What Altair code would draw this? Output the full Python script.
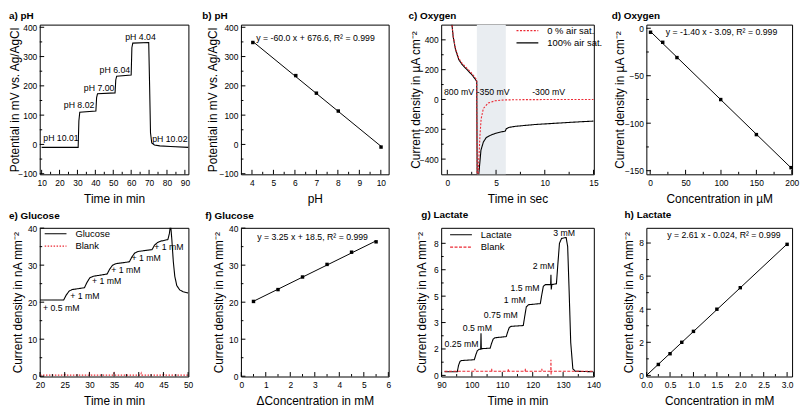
import altair as alt
import pandas as pd

FONT = "Liberation Sans, Arial, Helvetica, sans-serif"
RED = "#ec2a35"

# ---------------- a) pH time trace ----------------
a_time = [10, 30.4, 30.8, 31.3, 40.3, 40.7, 41.2, 51.0, 51.4, 51.9, 60.0, 60.4, 60.9,
          69.8, 70.3, 70.8, 71.5, 73, 76, 82, 92]
a_pot = [-10, -10, 80, 110, 114, 160, 173, 176, 220, 233, 237, 330, 346,
         348, 200, 40, 5, -2, -5, -7, -10]
a_lab_text = ["pH 10.01", "pH 8.02", "pH 7.00", "pH 6.04", "pH 4.04", "pH 10.02"]
a_lab_x = [20.8, 30.9, 42.1, 50.9, 65.2, 81.6]
a_lab_y = [21, 136, 191, 254, 367, 19]

# ---------------- b) pH calibration ----------------
b_ph = [4.04, 6.04, 7.00, 8.02, 10.01]
b_pot = [348, 235, 175, 114, -9]
b_eq = ["y = -60.0 x + 676.6, R² = 0.999"]
b_eq_x = [4.2]
b_eq_y = [364]

# ---------------- c) Oxygen transient ----------------
c_t_full = [0.45, 0.6, 0.84, 1.18, 1.52, 2.02, 2.53, 2.86, 3.02, 3.06, 3.2, 3.3, 3.45, 3.7,
            4.0, 4.5, 5.0, 5.5, 5.95, 6.05, 6.3, 7.0, 9.0, 11.0, 13.0, 15.0]
c_j_full = [520, 420, 334, 267, 234, 200, 165, 137, 120, -520, -520, -450, -340, -285,
            -255, -238, -226, -218, -212, -196, -188, -180, -168, -160, -152, -145]
c_t_zero = [0.45, 0.6, 0.84, 1.18, 1.52, 2.02, 2.53, 2.86, 3.02, 3.06, 3.15, 3.25, 3.35,
            3.47, 3.7, 4.2, 4.9, 5.5, 6.0, 8.0, 15.0]
c_j_zero = [520, 425, 340, 275, 242, 209, 174, 146, 130, -520, -520, -380, -240,
            -130, -60, -24, -9, -5, -3, -1, 0]
c_series = ["0 % air sat.", "100% air sat."]
c_band = [3.03, 6.0]
c_lab_text = ["800 mV", "-350 mV", "-300 mV"]
c_lab_x = [1.2, 4.7, 10.4]
c_lab_y = [51, 51, 51]

# ---------------- d) Oxygen calibration ----------------
d_conc = [0.5, 17.7, 37.8, 99.6, 150, 199]
d_j = [-4.2, -14.8, -30.9, -75.1, -112, -146.8]
d_eq = ["y = -1.40 x - 3.09, R² = 0.999"]
d_eq_x = [22]
d_eq_y = [-4.5]

# ---------------- e) Glucose trace ----------------
e_time = [20.0, 24.8, 25.3, 25.9, 26.5, 29.0, 29.5, 30.1, 30.8, 33.6, 34.1, 34.7, 35.4,
          38.1, 38.6, 39.2, 39.9, 42.7, 43.2, 43.8, 44.5, 45.9, 46.2, 46.45, 46.7, 47.0,
          47.3, 47.7, 48.3, 49.0, 50.0]
e_j = [20.6, 20.6, 21.9, 23.0, 23.4, 23.9, 25.3, 26.6, 27.0, 27.6, 28.9, 30.0, 30.4,
       30.9, 32.2, 33.3, 33.7, 34.2, 35.4, 36.1, 36.5, 36.9, 38.5, 41, 37, 31,
       27, 24.5, 23.3, 22.8, 22.5]
e_blank_t = [20.0, 24.9, 25.0, 25.1, 29.9, 30.0, 30.1, 34.9, 35.0, 35.1, 40.4, 40.5, 40.6,
             44.9, 45.0, 45.1, 50.0]
e_blank_j = [0.3, 0.3, 0.8, 0.3, 0.3, 0.8, 0.3, 0.3, 0.8, 0.3, 0.3, 0.8, 0.3,
             0.3, 0.8, 0.3, 0.3]
e_series = ["Glucose", "Blank"]
e_lab_text = ["+ 0.5 mM", "+ 1 mM", "+ 1 mM", "+ 1 mM", "+ 1 mM", "+ 1 mM"]
e_lab_x = [24.3, 29.1, 33.5, 37.4, 41.5, 46.1]
e_lab_y = [18.4, 21.6, 25.6, 28.7, 31.8, 34.8]

# ---------------- f) Glucose calibration ----------------
f_conc = [0.5, 1.5, 2.5, 3.5, 4.5, 5.5]
f_j = [20.2, 23.4, 26.8, 30.2, 33.5, 36.3]
f_eq = ["y = 3.25 x + 18.5, R² = 0.999"]
f_eq_x = [2.91]
f_eq_y = [37.6]

# ---------------- g) Lactate trace ----------------
g_time = [91, 95.2, 95.6, 96.1, 96.6, 100.8, 101.3, 101.8, 102.4, 102.9, 103.0, 103.1,
          103.3, 106.0, 106.5, 107.0, 107.6, 111.3, 111.8, 112.3, 112.9, 116.9, 117.4,
          117.9, 118.6, 122.5, 123.0, 123.5, 124.2, 125.9, 126.0, 126.1, 126.3, 127.8,
          128.3, 128.8, 129.5, 131.0, 131.5, 132.0, 132.5, 133.2, 134, 140]
g_j = [0.22, 0.22, 0.6, 0.85, 0.9, 0.95, 1.25, 1.5, 1.58, 1.6, 2.55, 1.6,
       1.62, 1.65, 1.95, 2.2, 2.28, 2.35, 2.65, 2.9, 2.97, 3.02, 3.6,
       4.15, 4.28, 4.35, 4.9, 5.4, 5.5, 5.5, 6.1, 5.2, 5.5, 5.55,
       6.8, 8.0, 8.3, 8.35, 7.8, 5.0, 2.0, 0.4, 0.25, 0.22]
g_blank_t = [91, 100.9, 101.0, 101.1, 106.4, 106.5, 106.6, 111.9, 112.0, 112.1, 117.5,
             117.6, 117.7, 122.9, 123.0, 123.1, 125.95, 126.0, 126.05, 126.1, 140]
g_blank_j = [0.25, 0.25, 0.4, 0.25, 0.25, 0.4, 0.25, 0.25, 0.4, 0.25, 0.25,
             0.4, 0.25, 0.25, 0.4, 0.25, 0.25, 0.95, 0.05, 0.25, 0.25]
g_series = ["Lactate", "Blank"]
g_lab_text = ["0.25 mM", "0.5 mM", "0.75 mM", "1 mM", "1.5 mM", "2 mM", "3 mM"]
g_lab_x = [96.6, 101.8, 109.5, 114.1, 117.5, 123.6, 130.3]
g_lab_y = [1.93, 2.87, 3.64, 4.58, 5.29, 6.6, 8.6]

# ---------------- h) Lactate calibration ----------------
h_conc = [0.25, 0.5, 0.75, 1.0, 1.5, 2.0, 3.0]
h_j = [0.66, 1.31, 2.0, 2.66, 4.0, 5.3, 7.92]
h_eq = ["y = 2.61 x - 0.024, R² = 0.999"]
h_eq_x = [1.65]
h_eq_y = [8.5]

# ---------------- layout ----------------
W = [150, 149, 154, 147]
H1, H2 = 151, 150
EPS = 2e-3
LEG_PATH = "M-2.2,0H2.2"   # long horizontal stroke as legend symbol


def sc(dom):
    span = dom[1] - dom[0]
    return alt.Scale(domain=[dom[0] - span * EPS, dom[1] + span * EPS], nice=False, zero=False)


AX_COMMON = dict(labelOverlap=False, labelBound=False, labelFlush=False)


def xax(title, vals, fmt=None):
    d = dict(title=title, values=vals, titleY=24, labelPadding=4, tickCount=len(vals), **AX_COMMON)
    if fmt:
        d["format"] = fmt
    return alt.Axis(**d)


def yax(title, vals, tx, fmt=None):
    d = dict(title=title, values=vals, titleX=tx, tickCount=len(vals), **AX_COMMON)
    if fmt:
        d["format"] = fmt
    return alt.Axis(**d)


def leg(x, y):
    return alt.Legend(title=None, orient="none", legendX=x, legendY=y, symbolType=LEG_PATH,
                      symbolSize=100, symbolOffset=6, labelOffset=14)


class P:
    """Panel helper: shared scales and axes for every layer of one panel."""

    def __init__(self, xdom, ydom, xa, ya, H):
        self.xs, self.ys, self.xa, self.ya, self.H = sc(xdom), sc(ydom), xa, ya, H

    def X(self, f):
        return alt.X(f, scale=self.xs, axis=self.xa)

    def Y(self, f):
        return alt.Y(f, scale=self.ys, axis=self.ya)

    def ticks(self, xmaj, xmin, ymaj, ymin):
        out = []
        for vals, L in ((xmaj, 4.5), (xmin, 2.5)):
            out.append(alt.Chart(pd.DataFrame({"x": vals})).mark_rule(color="black", strokeWidth=1).encode(
                x=self.X("x:Q"), y=alt.value(self.H), y2=alt.value(self.H - L)))
        for vals, L in ((ymaj, 4.5), (ymin, 2.5)):
            out.append(alt.Chart(pd.DataFrame({"y": vals})).mark_rule(color="black", strokeWidth=1).encode(
                y=self.Y("y:Q"), x=alt.value(0), x2=alt.value(L)))
        return out

    def text(self, xv, yv, tv, align="center"):
        df = pd.DataFrame({"x": xv, "y": yv, "t": tv})
        return alt.Chart(df).mark_text(font=FONT, fontSize=8.8, color="black", align=align,
                                       baseline="middle").encode(
            x=self.X("x:Q"), y=self.Y("y:Q"), text="t:N")

    def fit(self, xv, yv, extent=None):
        df = pd.DataFrame({"x": xv, "y": yv})
        base = alt.Chart(df)
        f = base.transform_regression("x", "y", extent=extent) if extent else base.transform_regression("x", "y")
        line = f.mark_line(color="black", strokeWidth=1).encode(x=self.X("x:Q"), y=self.Y("y:Q"))
        pts = base.mark_point(shape="square", filled=True, size=12, color="black", opacity=1).encode(
            x=self.X("x:Q"), y=self.Y("y:Q"))
        return [line, pts]

    def line(self, xv, yv, color="black"):
        df = pd.DataFrame({"x": xv, "y": yv})
        return alt.Chart(df).mark_line(color=color, strokeWidth=1.1, clip=True).encode(
            x=self.X("x:Q"), y=self.Y("y:Q"))

    def sline(self, xv, yv, s, cscale, dscale, lg):
        df = pd.DataFrame({"x": xv, "y": yv, "s": s})
        return alt.Chart(df).mark_line(strokeWidth=1.1, clip=True).encode(
            x=self.X("x:Q"), y=self.Y("y:Q"),
            color=alt.Color("s:N", scale=cscale, legend=lg),
            strokeDash=alt.StrokeDash("s:N", scale=dscale, legend=lg))


def title(txt, dx, off):
    return alt.TitleParams(text=txt, anchor="start", dx=dx, offset=off, frame="group",
                           fontSize=10, fontWeight="bold", font=FONT, color="black")


POT_TICKS = [-100.0, 0.0, 100.0, 200.0, 300.0, 400.0]
POT_DOM = [-101, 408]

# a
p = P([9.1, 91.8], POT_DOM, xax("Time in min", list(range(10, 91, 10))),
      yax("Potential in mV vs. Ag/AgCl", POT_TICKS, -25.5), H1)
panel_a = alt.layer(
    p.line(a_time, a_pot), p.text(a_lab_x, a_lab_y, a_lab_text),
    *p.ticks(list(range(10, 91, 10)), list(range(15, 86, 10)),
             POT_TICKS, [-50, 50, 150, 250, 350])
).properties(width=W[0], height=H1, title=title("a) pH", -31, 2))

# b
p = P([3.5, 10.35], POT_DOM, xax("pH", list(range(4, 11))),
      yax("Potential in mV vs. Ag/AgCl", POT_TICKS, -28.5), H1)
panel_b = alt.layer(
    *p.fit(b_ph, b_pot), p.text(b_eq_x, b_eq_y, b_eq, align="left"),
    *p.ticks(list(range(4, 11)), [4.5, 5.5, 6.5, 7.5, 8.5, 9.5],
             POT_TICKS, [-50, 50, 150, 250, 350])
).properties(width=W[1], height=H1, title=title("b) pH", -39, 2))

# c
p = P([-0.6, 15], [-500, 500], xax("Time in sec", [0, 5, 10, 15]),
      yax("Current density in µA cm⁻²", [-400, -200, 0, 200, 400], -26), H1)
c_color = alt.Scale(domain=c_series, range=[RED, "black"])
c_dash = alt.Scale(domain=c_series, range=[[2, 1.5], [1, 0]])
c_leg = leg(75, 0)
band = alt.Chart(pd.DataFrame({"x": [c_band[0]], "x2": [c_band[1]]})).mark_rect(color="#e9edf1").encode(
    x=p.X("x:Q"), x2="x2:Q", y=alt.value(0), y2=alt.value(H1))
panel_c = alt.layer(
    band,
    p.sline(c_t_full, c_j_full, c_series[1], c_color, c_dash, c_leg),
    p.sline(c_t_zero, c_j_zero, c_series[0], c_color, c_dash, c_leg),
    p.text(c_lab_x, c_lab_y, c_lab_text),
    *p.ticks([0, 5, 10, 15], [2.5, 7.5, 12.5], [-400, -200, 0, 200, 400], [-300, -100, 100, 300])
).properties(width=W[2], height=H1, title=title("c) Oxygen", -33, 4))

# d
p = P([-5, 200], [-153.5, 3.5], xax("Concentration in µM", [0, 50, 100, 150, 200]),
      yax("Current density in µA cm⁻²", [-150, -100, -50, 0], -27.5), H1)
panel_d = alt.layer(
    *p.fit(d_conc, d_j), p.text(d_eq_x, d_eq_y, d_eq, align="left"),
    *p.ticks([0, 50, 100, 150, 200], [25, 75, 125, 175], [-150, -100, -50, 0], [-125, -75, -25])
).properties(width=W[3], height=H1, title=title("d) Oxygen", -35, 3.5))

# e
p = P([20, 50], [0, 40], xax("Time in min", list(range(20, 51, 5))),
      yax("Current density in nA mm⁻²", [0, 10, 20, 30, 40], -22), H2)
e_color = alt.Scale(domain=e_series, range=["black", RED])
e_dash = alt.Scale(domain=e_series, range=[[1, 0], [1.5, 1.5]])
e_leg = leg(4, 0)
panel_e = alt.layer(
    p.sline(e_time, e_j, e_series[0], e_color, e_dash, e_leg),
    p.sline(e_blank_t, e_blank_j, e_series[1], e_color, e_dash, e_leg),
    p.text(e_lab_x, e_lab_y, e_lab_text),
    *p.ticks(list(range(20, 51, 5)), [22.5, 27.5, 32.5, 37.5, 42.5, 47.5], [0, 10, 20, 30, 40], [5, 15, 25, 35])
).properties(width=W[0], height=H2, title=title("e) Glucose", -31, 3.25))

# f
p = P([0, 6], [0, 40], xax("ΔConcentration in mM", list(range(0, 7))),
      yax("Current density in nA mm⁻²", [0, 10, 20, 30, 40], -23), H2)
panel_f = alt.layer(
    *p.fit(f_conc, f_j), p.text(f_eq_x, f_eq_y, f_eq),
    *p.ticks(list(range(0, 7)), [0.5, 1.5, 2.5, 3.5, 4.5, 5.5], [0, 10, 20, 30, 40], [5, 15, 25, 35])
).properties(width=W[1], height=H2, title=title("f) Glucose", -36, 3.25))

# g
p = P([90, 140], [-0.05, 8.92], xax("Time in min", [90, 100, 110, 120, 130, 140]),
      yax("Current density in nA mm⁻²", [0, 1.6, 3.2, 4.8, 6.4, 8.0], -19.5, fmt=".0f"), H2)
g_color = alt.Scale(domain=g_series, range=["black", RED])
g_dash = alt.Scale(domain=g_series, range=[[1, 0], [3, 1.5]])
g_leg = leg(8, 1)
panel_g = alt.layer(
    p.sline(g_time, g_j, g_series[0], g_color, g_dash, g_leg),
    p.sline(g_blank_t, g_blank_j, g_series[1], g_color, g_dash, g_leg),
    p.text(g_lab_x, g_lab_y, g_lab_text),
    *p.ticks([90, 100, 110, 120, 130, 140], [95, 105, 115, 125, 135],
             [0, 1.6, 3.2, 4.8, 6.4, 8.0], [0.8, 2.4, 4.0, 5.6, 7.2])
).properties(width=W[2], height=H2, title=title("g) Lactate", -20, 7.5))

# h
p = P([0, 3.1], [-0.05, 8.9], xax("Concentration in mM", [0, 0.5, 1.0, 1.5, 2.0, 2.5, 3.0], fmt=".1f"),
      yax("Current density in nA mm⁻²", [0, 2, 4, 6, 8], -18), H2)
panel_h = alt.layer(
    *p.fit(h_conc, h_j, extent=[0, 3]), p.text(h_eq_x, h_eq_y, h_eq),
    *p.ticks([0, 0.5, 1.0, 1.5, 2.0, 2.5, 3.0], [0.25, 0.75, 1.25, 1.75, 2.25, 2.75],
             [0, 2, 4, 6, 8], [1, 3, 5, 7])
).properties(width=W[3], height=H2, title=title("h) Lactate", -22, 7.5))

chart = alt.ConcatChart(
    concat=[panel_a, panel_b, panel_c, panel_d, panel_e, panel_f, panel_g, panel_h],
    columns=4, spacing={"row": 54, "column": 53}, bounds="flush", align="each", padding=0,
).resolve_scale(color="independent", strokeDash="independent").configure_view(
    stroke="black", strokeWidth=1
).configure_axis(
    ticks=False, tickSize=0, domain=False, grid=False, labelFont=FONT, labelFontSize=8.5,
    labelColor="black", labelPadding=3, labelFlush=False, labelOverlap=False,
    titleFont=FONT, titleFontSize=12, titleFontWeight="normal", titleColor="black",
    titleBaseline="middle", titlePadding=0
).configure_legend(
    labelFont=FONT, labelFontSize=9.5, labelColor="black", padding=0,
    rowPadding=1.5, symbolStrokeWidth=1.2
)

chart.save("out.html", embed_options={"renderer": "svg", "actions": False})
